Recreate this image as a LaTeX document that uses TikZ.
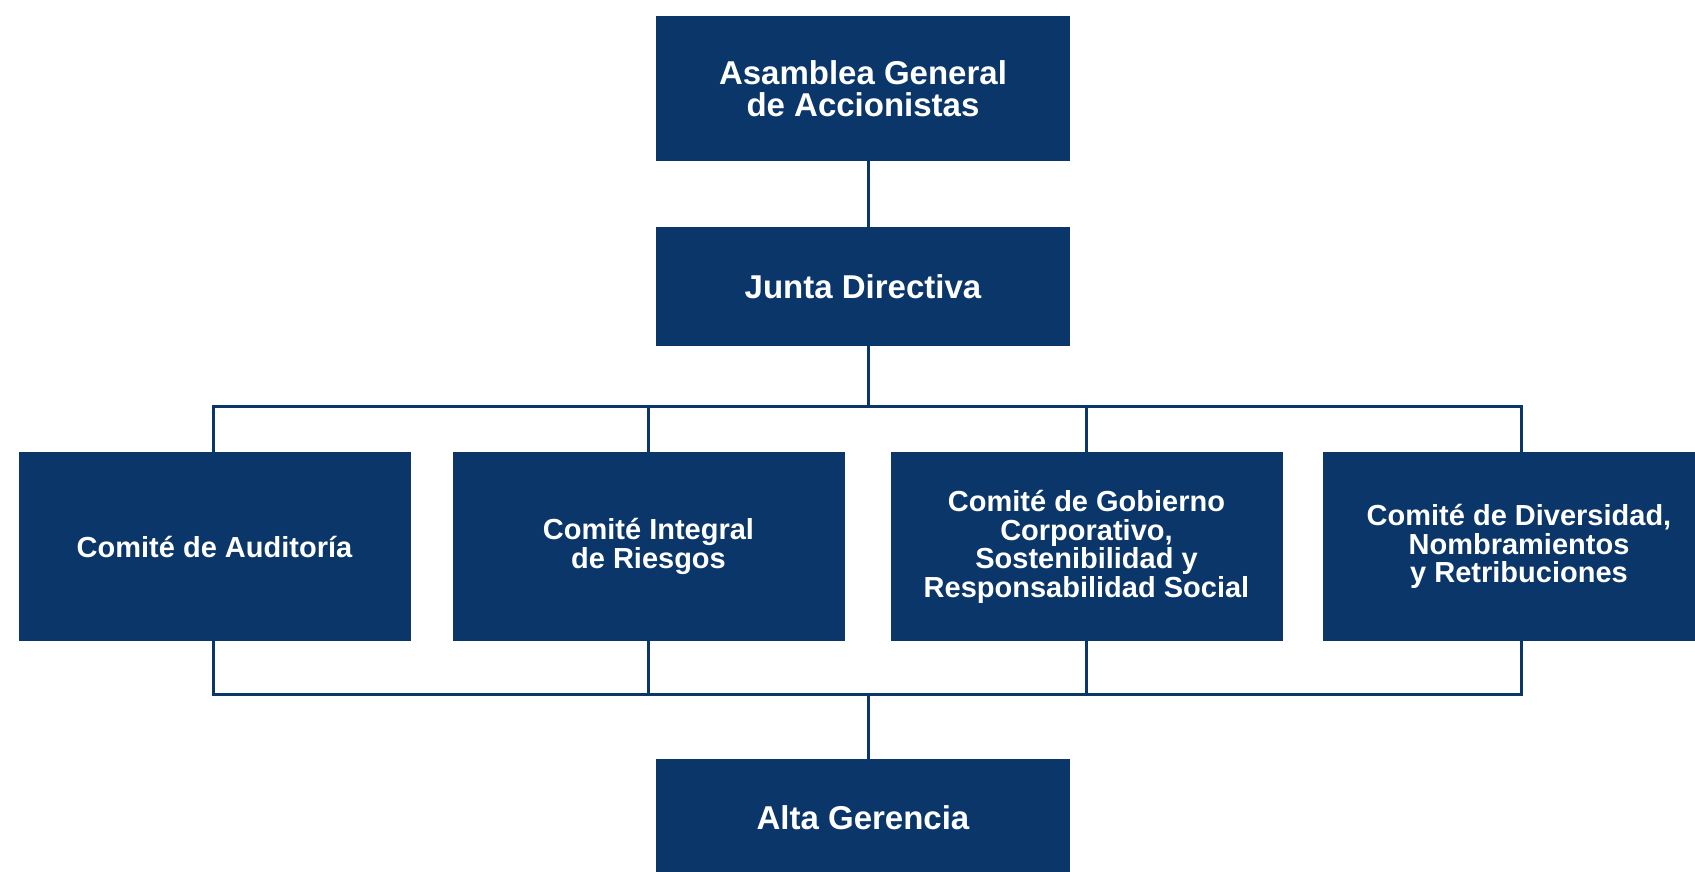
\documentclass[tikz,border=0pt]{standalone}
\usepackage{fontspec}
\setmainfont{Liberation Sans}
\definecolor{navy}{HTML}{0B3669}
\begin{document}
\begin{tikzpicture}[x=1pt,y=1pt,
  box/.style={fill=navy,draw=none,text=white,font=\bfseries\fontsize{33}{31.5}\selectfont,align=center,inner sep=0pt},
  cbox/.style={box,minimum width=392pt,minimum height=189pt,font=\bfseries\fontsize{29}{28.6}\selectfont},
  link/.style={draw=navy,line width=3pt}]
\useasboundingbox (0,0) rectangle (1695,-871);
\node[box,minimum width=414pt,minimum height=145pt] (asamblea) at (863,-88.5) {Asamblea General\\de Accionistas};
\node[box,minimum width=414pt,minimum height=119pt] (junta) at (863,-286.5) {Junta Directiva};
\node[cbox] (aud) at (214.5,-546.7) {Comité de Auditoría};
\node[cbox] (rie) at (648.5,-546.7) {Comité Integral\\de Riesgos};
\node[cbox] (gob) at (1086.5,-546.7) {Comité de Gobierno\\Corporativo,\\Sostenibilidad y\\Responsabilidad Social};
\node[cbox] (div) at (1519,-546.7) {Comité de Diversidad,\\Nombramientos\\y Retribuciones};
\node[box,minimum width=414pt,minimum height=118pt] (alta) at (863,-818) {Alta Gerencia};
\coordinate (tx) at (868,0);
\coordinate (bt) at (0,-406);
\coordinate (bb) at (0,-694);
\draw[link] (asamblea.south -| tx) -- (junta.north -| tx);
\draw[link] (junta.south -| tx) -- (bt -| tx);
\draw[link] (aud.north -| 213,0) -- (bt -| 213,0) -- (bt -| 1521,0) -- (div.north -| 1521,0);
\draw[link] (rie.north) -- (bt -| rie);
\draw[link] (gob.north) -- (bt -| gob);
\draw[link] (aud.south -| 213,0) -- (bb -| 213,0) -- (bb -| 1521,0) -- (div.south -| 1521,0);
\draw[link] (rie.south) -- (bb -| rie);
\draw[link] (gob.south) -- (bb -| gob);
\draw[link] (bb -| tx) -- (alta.north -| tx);
\end{tikzpicture}
\end{document}
